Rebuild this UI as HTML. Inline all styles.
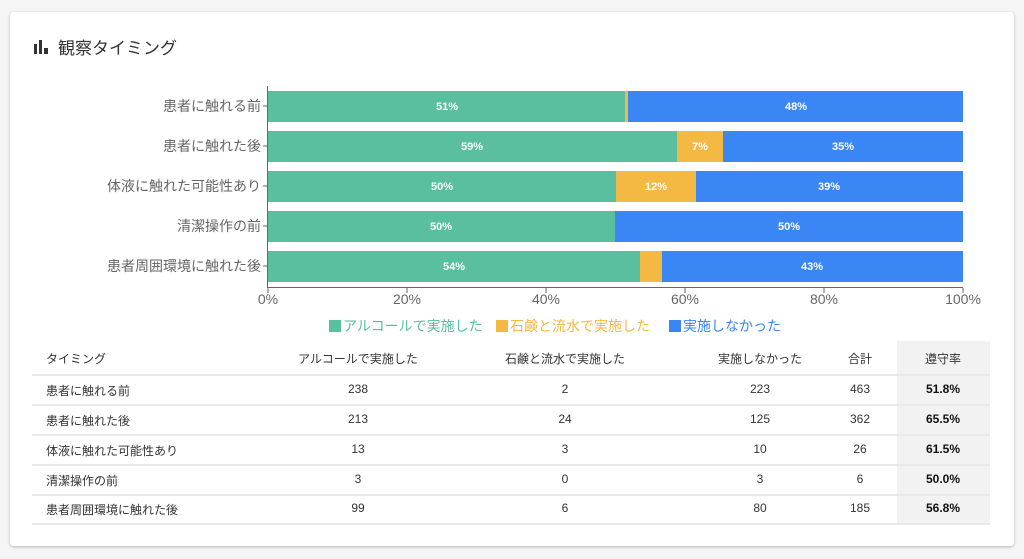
<!DOCTYPE html>
<html><head><meta charset="utf-8"><style>
body{margin:0;width:1024px;height:559px;background:#f5f5f5;font-family:"Liberation Sans","Noto Sans CJK JP",sans-serif;position:relative;overflow:hidden}
.card{position:absolute;left:10px;top:12px;width:1004px;height:534px;background:#fff;border-radius:4px;box-shadow:0 1px 3px rgba(0,0,0,.25)}
.abs{position:absolute}
.t{position:absolute;font-size:12px;color:#333;transform:translateX(-50%);white-space:nowrap}
</style></head><body>
<div class="card"></div>
<svg class="abs" style="left:0;top:0" width="1024" height="559">
<rect x="34" y="44" width="3" height="10" fill="#333"/><rect x="39" y="40" width="3" height="14" fill="#333"/><rect x="44" y="48" width="4" height="6" fill="#333"/>
<text x="58" y="54" font-size="17" fill="#333" font-family="Liberation Sans,Noto Sans CJK JP,sans-serif">観察タイミング</text>
<g font-family="Liberation Sans,Noto Sans CJK JP,sans-serif">
<line x1="267.5" y1="86" x2="267.5" y2="288" stroke="#666"/>
<line x1="267" y1="287.5" x2="963" y2="287.5" stroke="#666"/>
<g stroke="#666">
<line x1="268" y1="288" x2="268" y2="293"/><line x1="407" y1="288" x2="407" y2="293"/><line x1="546" y1="288" x2="546" y2="293"/><line x1="685" y1="288" x2="685" y2="293"/><line x1="824" y1="288" x2="824" y2="293"/><line x1="963" y1="288" x2="963" y2="293"/>
<line x1="263" y1="106" x2="268" y2="106"/><line x1="263" y1="146" x2="268" y2="146"/><line x1="263" y1="186" x2="268" y2="186"/><line x1="263" y1="226" x2="268" y2="226"/><line x1="263" y1="266" x2="268" y2="266"/>
</g>
<g font-size="14" fill="#666" text-anchor="middle">
<text x="268" y="304">0%</text><text x="407" y="304">20%</text><text x="546" y="304">40%</text><text x="685" y="304">60%</text><text x="824" y="304">80%</text><text x="963" y="304">100%</text>
</g>
<g font-size="14" fill="#666" text-anchor="end">
<text x="261" y="111">患者に触れる前</text><text x="261" y="151">患者に触れた後</text><text x="261" y="191">体液に触れた可能性あり</text><text x="261" y="231">清潔操作の前</text><text x="261" y="271">患者周囲環境に触れた後</text>
</g>
<!-- bars -->
<rect x="268" y="91" width="357" height="31" fill="#59bf9f"/><rect x="625" y="91" width="3" height="31" fill="#f4b942"/><rect x="628" y="91" width="335" height="31" fill="#3b86f5"/>
<rect x="268" y="131" width="409" height="31" fill="#59bf9f"/><rect x="677" y="131" width="46" height="31" fill="#f4b942"/><rect x="723" y="131" width="240" height="31" fill="#3b86f5"/>
<rect x="268" y="171" width="348" height="31" fill="#59bf9f"/><rect x="616" y="171" width="80" height="31" fill="#f4b942"/><rect x="696" y="171" width="267" height="31" fill="#3b86f5"/>
<rect x="268" y="211" width="347" height="31" fill="#59bf9f"/><rect x="615" y="211" width="348" height="31" fill="#3b86f5"/>
<rect x="268" y="251" width="372" height="31" fill="#59bf9f"/><rect x="640" y="251" width="22" height="31" fill="#f4b942"/><rect x="662" y="251" width="301" height="31" fill="#3b86f5"/>
<g font-size="11" font-weight="bold" fill="#fff" text-anchor="middle">
<text x="447" y="110">51%</text><text x="796" y="110">48%</text>
<text x="472" y="150">59%</text><text x="700" y="150">7%</text><text x="843" y="150">35%</text>
<text x="442" y="190">50%</text><text x="656" y="190">12%</text><text x="829" y="190">39%</text>
<text x="441" y="230">50%</text><text x="789" y="230">50%</text>
<text x="454" y="270">54%</text><text x="812" y="270">43%</text>
</g>
<!-- legend -->
<rect x="329" y="320" width="12" height="12" fill="#59bf9f"/><text x="343" y="331" font-size="14" fill="#59bf9f">アルコールで実施した</text>
<rect x="496" y="320" width="12" height="12" fill="#f4b942"/><text x="510" y="331" font-size="14" fill="#f4b942">石鹸と流水で実施した</text>
<rect x="669" y="320" width="12" height="12" fill="#3b86f5"/><text x="683" y="331" font-size="14" fill="#3b86f5">実施しなかった</text>
</g>
<!-- table -->
<rect x="897" y="341" width="93" height="183" fill="#f2f2f2"/>
<g stroke="#e4e4e4" stroke-width="1.5">
<line x1="32" y1="375" x2="990" y2="375"/><line x1="32" y1="405" x2="990" y2="405"/><line x1="32" y1="435" x2="990" y2="435"/><line x1="32" y1="465" x2="990" y2="465"/><line x1="32" y1="495" x2="990" y2="495"/><line x1="32" y1="524" x2="990" y2="524"/>
</g>
</svg>
<div class="abs" style="left:46px;top:350px;font-size:12px;color:#333">タイミング</div>
<div class="t" style="left:358px;top:350px">アルコールで実施した</div>
<div class="t" style="left:565px;top:350px">石鹸と流水で実施した</div>
<div class="t" style="left:760px;top:350px">実施しなかった</div>
<div class="t" style="left:860px;top:350px">合計</div>
<div class="t" style="left:943px;top:350px">遵守率</div>

<div class="abs" style="left:46px;top:382px;font-size:12px;color:#333">患者に触れる前</div>
<div class="t" style="left:358px;top:382px">238</div><div class="t" style="left:565px;top:382px">2</div><div class="t" style="left:760px;top:382px">223</div><div class="t" style="left:860px;top:382px">463</div><div class="t" style="left:943px;top:382px;font-weight:bold;color:#111">51.8%</div>

<div class="abs" style="left:46px;top:412px;font-size:12px;color:#333">患者に触れた後</div>
<div class="t" style="left:358px;top:412px">213</div><div class="t" style="left:565px;top:412px">24</div><div class="t" style="left:760px;top:412px">125</div><div class="t" style="left:860px;top:412px">362</div><div class="t" style="left:943px;top:412px;font-weight:bold;color:#111">65.5%</div>

<div class="abs" style="left:46px;top:442px;font-size:12px;color:#333">体液に触れた可能性あり</div>
<div class="t" style="left:358px;top:442px">13</div><div class="t" style="left:565px;top:442px">3</div><div class="t" style="left:760px;top:442px">10</div><div class="t" style="left:860px;top:442px">26</div><div class="t" style="left:943px;top:442px;font-weight:bold;color:#111">61.5%</div>

<div class="abs" style="left:46px;top:472px;font-size:12px;color:#333">清潔操作の前</div>
<div class="t" style="left:358px;top:472px">3</div><div class="t" style="left:565px;top:472px">0</div><div class="t" style="left:760px;top:472px">3</div><div class="t" style="left:860px;top:472px">6</div><div class="t" style="left:943px;top:472px;font-weight:bold;color:#111">50.0%</div>

<div class="abs" style="left:46px;top:501px;font-size:12px;color:#333">患者周囲環境に触れた後</div>
<div class="t" style="left:358px;top:501px">99</div><div class="t" style="left:565px;top:501px">6</div><div class="t" style="left:760px;top:501px">80</div><div class="t" style="left:860px;top:501px">185</div><div class="t" style="left:943px;top:501px;font-weight:bold;color:#111">56.8%</div>
</body></html>
